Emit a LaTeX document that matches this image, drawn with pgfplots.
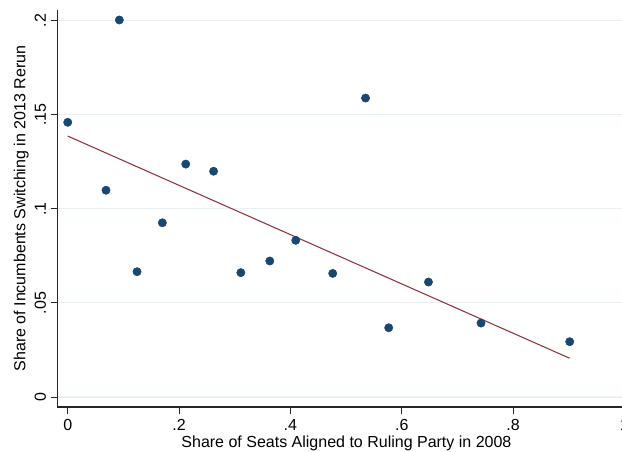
\documentclass[border=0pt]{standalone}
\usepackage{pgfplots}
\pgfplotsset{compat=1.18}
\usepackage{fontspec}
\setmainfont{Liberation Sans}
\definecolor{stnavy}{RGB}{26,71,111}
\definecolor{stmaroon}{RGB}{144,53,59}
\definecolor{stgrid}{RGB}{232,240,242}
\begin{document}
\begin{tikzpicture}
\begin{axis}[
  name=ax,
  scale only axis,
  width=433.65pt, height=297.75pt,
  xmin=-0.01868, xmax=1.02,
  ymin=-0.00531, ymax=0.2057,
  axis lines=left,
  axis line style={-, line width=0.8pt, black!85},
  xtick={0,0.2,0.4,0.6,0.8,1},
  xticklabels={0,.2,.4,.6,.8,1},
  ytick={0,0.05,0.1,0.15,0.2},
  yticklabels={0,.05,.1,.15,.2},
  tick align=outside,
  major tick length=5pt,
  tick style={line width=0.7pt, black!85},
  ymajorgrids,
  grid style={line width=0.8pt, stgrid},
  font=\fontsize{12}{14}\selectfont,
  /pgf/number format/assume math mode=true,
  xticklabel style={font=\fontsize{12}{14}\selectfont, anchor=north, yshift=-1pt},
  yticklabel style={font=\fontsize{12}{14}\selectfont, rotate=90, anchor=south},
  xlabel={Share of Seats Aligned to Ruling Party in 2008},
  ylabel={Share of Incumbents Switching in 2013 Rerun},
  xlabel style={at={(axis description cs:0.5,-0.0907)}, anchor=center},
  ylabel style={at={(axis description cs:-0.0623,0.5)}, anchor=center},
  clip=false,
]
\addplot[only marks, mark=*, mark size=3.1pt, mark options={fill=stnavy, draw=stnavy}] coordinates {
(0.000,0.1460)
(0.0927,0.2004)
(0.0688,0.1099)
(0.1245,0.0666)
(0.170,0.0926)
(0.212,0.1238)
(0.262,0.1200)
(0.311,0.0661)
(0.363,0.0723)
(0.4096,0.0833)
(0.476,0.0657)
(0.535,0.1589)
(0.5766,0.0368)
(0.648,0.0611)
(0.7424,0.0393)
(0.9017,0.0294)
};
\addplot[stmaroon, line width=0.8pt] coordinates {(0,0.1387) (0.9017,0.0206)};
\end{axis}
\pgfresetboundingbox
\path[use as bounding box] ([shift={(-43pt,-33pt)}]ax.south west) rectangle ([shift={(423.5pt,305.25pt)}]ax.south west);
\end{tikzpicture}
\end{document}
